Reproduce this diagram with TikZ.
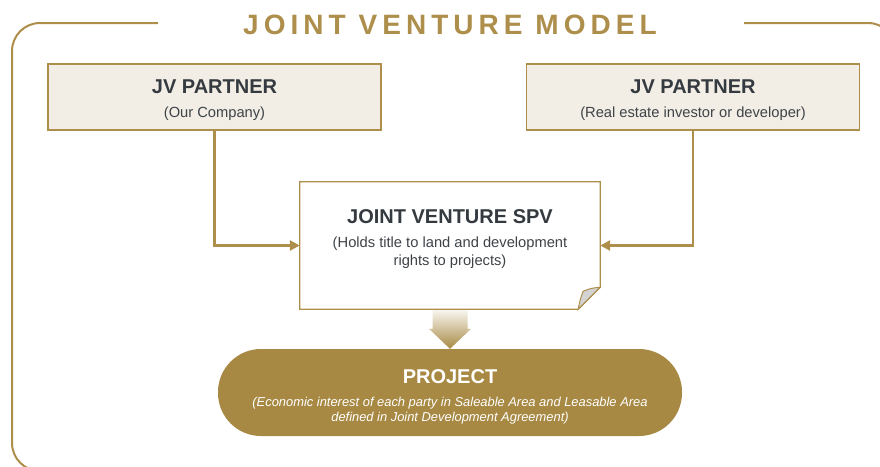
\documentclass[tikz,border=0pt]{standalone}
\usepackage{fontspec}
\setmainfont{Liberation Sans}
\usetikzlibrary{arrows.meta,calc}
\definecolor{gold}{HTML}{AD8E4B}
\definecolor{pillgold}{HTML}{A78943}
\definecolor{beige}{HTML}{F2EEE5}
\definecolor{ink}{HTML}{343A40}
\definecolor{subink}{HTML}{3E4348}
\definecolor{foldgray}{HTML}{D3D3D3}
\definecolor{palegold}{HTML}{F8F5EE}
\begin{document}
\begin{tikzpicture}[x=1pt,y=-1pt,
  frameline/.style={draw=gold, line width=2pt, rounded corners=28pt},
  partnerbox/.style={draw=gold, line width=1.4pt, fill=beige, minimum width=333pt, minimum height=66pt, inner sep=0pt},
  headtext/.style={anchor=base, inner sep=0pt, text=ink, font=\fontsize{20}{24}\selectfont\bfseries},
  subtext/.style={anchor=base, inner sep=0pt, text=subink, font=\fontsize{14.7}{18}\selectfont},
  conn/.style={draw=gold, line width=2.5pt, -{Triangle[length=10pt,width=10pt]}},
  projtext/.style={anchor=base, inner sep=0pt, text=white, font=\fontsize{20}{24}\selectfont\bfseries},
  projsub/.style={anchor=base, inner sep=0pt, text=white, font=\fontsize{12.9}{15}\selectfont\itshape}
]
\useasboundingbox (0,0) rectangle (880,466);
\clip (0,0) rectangle (880,466);

% frame
\draw[frameline] (158,23) -- (12,23) -- (12,471) -- (896,471) -- (896,23) -- (744,23);
\node[anchor=base, inner sep=0pt, text=gold, font=\fontsize{28}{30}\selectfont\bfseries\addfontfeature{LetterSpace=18}] (title) at (450,34) {JOINT VENTURE MODEL};

% partner boxes
\node[partnerbox] (lp) at (214.5,97) {};
\node[headtext] (lpt) at (214.5,93) {JV PARTNER};
\node[subtext] (lps) at (214.5,117) {(Our Company)};

\node[partnerbox] (rp) at (693,97) {};
\node[headtext] (rpt) at (693,93) {JV PARTNER};
\node[subtext] (rps) at (693,117) {(Real estate investor or developer)};

% SPV box with folded corner
\node[minimum width=300pt, minimum height=127pt, inner sep=0pt] (spv) at (450,245.5) {};
\draw[gold, line width=1.2pt, fill=white] (spv.north west) -- (spv.north east) -- ($(spv.south east)+(0,-22)$) -- ($(spv.south east)+(-22,0)$) -- (spv.south west) -- cycle;
\draw[gold, line width=1pt, fill=foldgray] ($(spv.south east)+(0,-22)$) .. controls ($(spv.south east)+(-9,-21)$) .. ($(spv.south east)+(-17,-18)$) .. controls ($(spv.south east)+(-20,-10)$) .. ($(spv.south east)+(-22,0)$) -- cycle;
\node[headtext] (spvt) at (450,223) {JOINT VENTURE SPV};
\node[subtext] (spvs1) at (450,247) {(Holds title to land and development};
\node[subtext] (spvs2) at (450,265) {rights to projects)};

% connectors
\draw[conn] (lp.south) |- (spv.west);
\draw[conn] (rp.south) |- (spv.east);

% project pill
\node[fill=pillgold, rounded corners=43pt, minimum width=464pt, minimum height=87pt, inner sep=0pt] (proj) at (450,392.5) {};
\node[projtext] (projt) at (450,383) {PROJECT};
\node[projsub] (projs1) at (450,406) {(Economic interest of each party in Saleable Area and Leasable Area};
\node[projsub] (projs2) at (450,421) {defined in Joint Development Agreement)};

% block arrow
\shade[top color=palegold, bottom color=pillgold]
  ($(spv.south)+(-17.5,1)$) -- ($(spv.south)+(17.5,1)$) -- ($(proj.north)+(17.5,-20)$) -- ($(proj.north)+(21,-20)$) -- (proj.north) -- ($(proj.north)+(-21,-20)$) -- ($(proj.north)+(-17.5,-20)$) -- cycle;
\end{tikzpicture}
\end{document}
